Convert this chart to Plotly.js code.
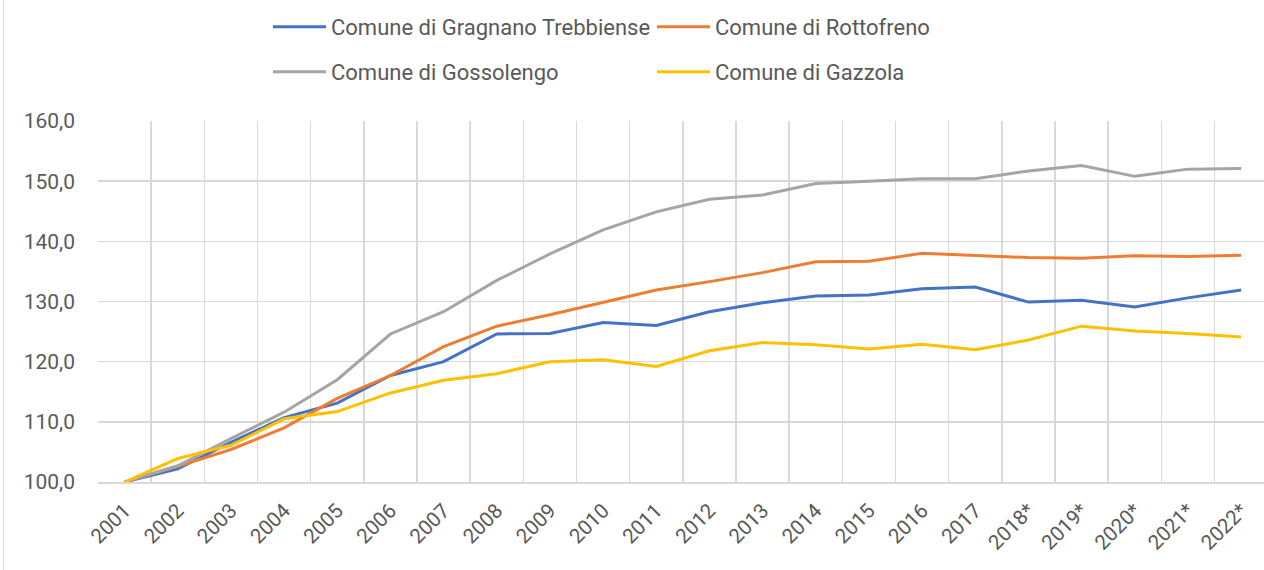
<!DOCTYPE html>
<html>
<head>
<meta charset="utf-8">
<script src="https://cdn.plot.ly/plotly-3.0.1.min.js"></script>
<style>
  html, body { margin: 0; padding: 0; background: #fff; }
  #chart { width: 1264px; height: 570px; }
  #frame { position: absolute; left: 3px; top: 0; width: 1px; height: 570px; background: #d9d9d9; }
</style>
</head>
<body>
<div id="chart"></div>
<div id="frame"></div>
<script>
const years = ["2001","2002","2003","2004","2005","2006","2007","2008","2009","2010","2011",
               "2012","2013","2014","2015","2016","2017","2018*","2019*","2020*","2021*","2022*"];

const gragnano   = [100.0,102.2,106.6,110.7,113.1,117.7,120.0,124.6,124.7,126.5,126.0,128.3,129.8,130.9,131.1,132.1,132.4,129.9,130.2,129.1,130.6,131.9];
const rottofreno = [100.0,102.6,105.4,109.0,113.9,117.7,122.5,125.9,127.8,129.8,131.9,133.3,134.8,136.6,136.7,138.0,137.7,137.3,137.2,137.6,137.5,137.7];
const gossolengo = [100.0,102.7,107.2,111.6,117.0,124.6,128.3,133.5,137.9,141.9,144.9,147.0,147.7,149.6,150.0,150.4,150.4,151.7,152.6,150.8,152.0,152.1];
const gazzola    = [100.0,103.9,106.1,110.5,111.7,114.8,116.9,118.0,120.0,120.3,119.2,121.8,123.2,122.8,122.1,122.9,122.0,123.6,125.9,125.1,124.7,124.1];

const names = ["Comune di Gragnano Trebbiense","Comune di Rottofreno","Comune di Gossolengo","Comune di Gazzola"];
const colors = ["#4472C4","#ED7D31","#A5A5A5","#FFC000"];
const series = [gragnano, rottofreno, gossolengo, gazzola];
const legendFor = ["legend","legend","legend2","legend2"];

const FONT = "Roboto, 'Open Sans', sans-serif";

const traces = series.map((ys, i) => ({
  type: "scatter",
  mode: "lines",
  x: years,
  y: ys,
  name: names[i],
  line: { color: colors[i], width: 3 },
  legend: legendFor[i],
  hoverinfo: "x+y+name"
}));

const legendCommon = {
  orientation: "h",
  xref: "container", yref: "container",
  x: 268/1264, xanchor: "left",
  yanchor: "middle",
  font: { family: FONT, size: 22, color: "#595959" },
  itemwidth: 53,
  entrywidth: 316,
  entrywidthmode: "pixels",
  tracegroupgap: 0,
  bgcolor: "rgba(0,0,0,0)"
};

const layout = {
  width: 1264, height: 570,
  margin: { l: 98, r: 0, t: 121, b: 88, pad: 0 },
  paper_bgcolor: "#ffffff",
  plot_bgcolor: "#ffffff",
  separators: ",.",
  font: { family: FONT, size: 21, color: "#595959" },
  showlegend: true,
  legend: Object.assign({}, legendCommon, { y: 1 - 27/570 }),
  legend2: Object.assign({}, legendCommon, { y: 1 - 72/570 }),
  xaxis: {
    type: "category",
    range: [-0.5, 21.43],
    tickson: "boundaries",
    showgrid: true,
    gridcolor: "#d9d9d9",
    gridwidth: 1.5,
    showline: true,
    linecolor: "#d9d9d9",
    linewidth: 1.5,
    ticks: "",
    tickangle: -45,
    ticklabelstandoff: 7,
    tickfont: { family: FONT, size: 20.5, color: "#595959" },
    zeroline: false,
    fixedrange: true
  },
  yaxis: {
    range: [100, 160],
    tickvals: [100,110,120,130,140,150,160],
    tickformat: ".1f",
    showgrid: true,
    gridcolor: "#d9d9d9",
    gridwidth: 1.5,
    zeroline: false,
    showline: false,
    ticks: "",
    ticklabelstandoff: 22,
    tickfont: { family: FONT, size: 21, color: "#595959" },
    fixedrange: true
  }
};

Plotly.newPlot("chart", traces, layout, { displayModeBar: false, staticPlot: true });
</script>
</body>
</html>
